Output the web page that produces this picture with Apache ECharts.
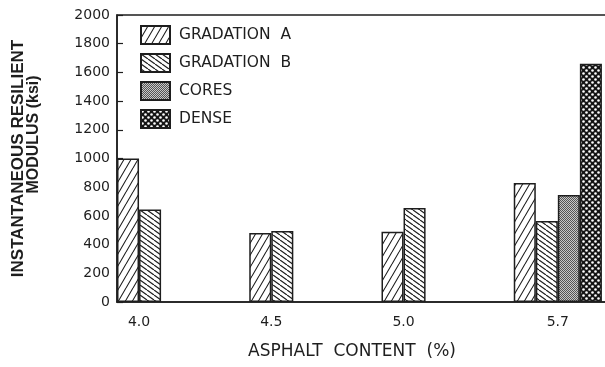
<!DOCTYPE html>
<html>
<head>
<meta charset="utf-8">
<script src="https://cdn.jsdelivr.net/npm/echarts@6/dist/echarts.min.js"></script>
<style>
  html, body { margin: 0; padding: 0; background: #fff; overflow: hidden; }
  #chart { width: 660px; height: 367px; }
</style>
</head>
<body>
<div id="chart"></div>
<script>
const categories = ['4.0', '4.5', '5.0', '5.7'];
const gradationA = [1000, 480, 490, 830];
const gradationB = [645, 495, 655, 565];
const cores = [null, null, null, 745];
const dense = [null, null, null, 1660];
const yTicks = { min: 0, max: 2000, step: 200 };

// each band holds 6 bar slots; the last two are empty spacers so groups start at the band edge
const SLOTS = 6;
const gridLeft = 117;
const gridWidth = 529;
const barW = gridWidth / categories.length / SLOTS;
const ink = '#1e1e1e';

const makePattern = (w, h, draw) => {
  const c = document.createElement('canvas');
  c.width = w;
  c.height = h;
  const ctx = c.getContext('2d');
  ctx.fillStyle = '#fff';
  ctx.fillRect(0, 0, w, h);
  draw(ctx, w, h);
  return { image: c, repeat: 'repeat' };
};

const hatchA = makePattern(7, 12, (ctx, w, h) => {
  ctx.strokeStyle = ink;
  ctx.lineWidth = 1.1;
  ctx.beginPath();
  [-w, 0, w].forEach((dx) => { ctx.moveTo(dx, h); ctx.lineTo(dx + w, 0); });
  ctx.stroke();
});

const hatchB = makePattern(7, 5, (ctx, w, h) => {
  ctx.strokeStyle = ink;
  ctx.lineWidth = 1.2;
  ctx.beginPath();
  [-w, 0, w].forEach((dx) => { ctx.moveTo(dx, 0); ctx.lineTo(dx + w, h); });
  ctx.stroke();
});

const stipple = makePattern(2, 2, (ctx) => {
  ctx.fillStyle = '#c8c8c8';
  ctx.fillRect(0, 0, 2, 2);
  ctx.fillStyle = '#555';
  ctx.fillRect(0, 0, 1, 1);
  ctx.fillRect(1, 1, 1, 1);
});

const dots = makePattern(6, 6, (ctx) => {
  ctx.fillStyle = '#151515';
  ctx.fillRect(0, 0, 6, 6);
  ctx.fillStyle = '#fff';
  [[1.5, 1.5], [4.5, 4.5]].forEach(([x, y]) => {
    ctx.beginPath();
    ctx.arc(x, y, 1.3, 0, Math.PI * 2);
    ctx.fill();
  });
});

const groupSize = categories.map((_, i) =>
  [gradationA, gradationB, cores, dense].filter((s) => s[i] != null).length
);

const barSeries = (name, data, fill) => ({
  name,
  type: 'bar',
  data: data.map((v) => (v == null ? '-' : v)),
  barGap: '0%',
  barCategoryGap: '0%',
  itemStyle: { color: fill, borderColor: ink, borderWidth: 1.5 },
  emphasis: { disabled: true },
  animation: false
});

const chart = echarts.init(document.getElementById('chart'));

chart.setOption({
  backgroundColor: '#fff',
  textStyle: { fontFamily: 'DejaVu Sans', color: ink },
  grid: {
    left: gridLeft,
    top: 15,
    width: gridWidth,
    height: 287,
    show: true,
    borderColor: ink,
    borderWidth: 1.5
  },
  legend: {
    data: ['GRADATION A', 'GRADATION B', 'CORES', 'DENSE'],
    formatter: (name) => name.replace(' ', '  '),
    icon: 'rect',
    orient: 'vertical',
    left: 140,
    top: 25,
    padding: 0,
    itemWidth: 29,
    itemHeight: 18,
    itemGap: 8,
    selectedMode: false,
    textStyle: { fontFamily: 'DejaVu Sans', fontSize: 15.5, color: ink, padding: [0, 0, 0, 4] }
  },
  xAxis: {
    type: 'category',
    data: categories.map((c, i) => ({
      value: c,
      textStyle: { padding: [0, (SLOTS - groupSize[i]) * barW, 0, 0] }
    })),
    axisLine: { lineStyle: { color: ink, width: 1.5 } },
    axisTick: { show: false },
    axisLabel: { fontSize: 14, color: ink, margin: 13 },
    name: 'ASPHALT  CONTENT  (%)',
    nameLocation: 'middle',
    nameGap: 41,
    nameTextStyle: { fontSize: 17, color: ink, padding: [0, 59, 0, 0] }
  },
  yAxis: {
    type: 'value',
    min: yTicks.min,
    max: yTicks.max,
    interval: yTicks.step,
    axisLine: { show: true, lineStyle: { color: ink, width: 1.5 } },
    axisTick: { show: true, inside: true, length: 6, lineStyle: { color: ink, width: 1.2 } },
    axisLabel: { fontSize: 14, color: ink, margin: 7, formatter: (v) => String(v) },
    splitLine: { show: false },
    name: '{a|INSTANTANEOUS RESILIENT}\n{b|MODULUS (ksi)}',
    nameLocation: 'middle',
    nameGap: 76,
    nameTextStyle: {
      fontFamily: 'Liberation Sans',
      fontWeight: 'bold',
      fontSize: 16,
      color: ink,
      lineHeight: 15,
      rich: {
        a: { fontFamily: 'Liberation Sans', fontWeight: 'bold', fontSize: 17, lineHeight: 15, color: ink },
        b: { fontFamily: 'Liberation Sans', fontWeight: 'bold', fontSize: 16, lineHeight: 15, color: ink, padding: [0, 0, 0, 48] }
      }
    }
  },
  series: [
    barSeries('GRADATION A', gradationA, hatchA),
    barSeries('GRADATION B', gradationB, hatchB),
    barSeries('CORES', cores, stipple),
    barSeries('DENSE', dense, dots),
    barSeries('spacer1', categories.map(() => null), 'transparent'),
    barSeries('spacer2', categories.map(() => null), 'transparent')
  ]
});
</script>
</body>
</html>
